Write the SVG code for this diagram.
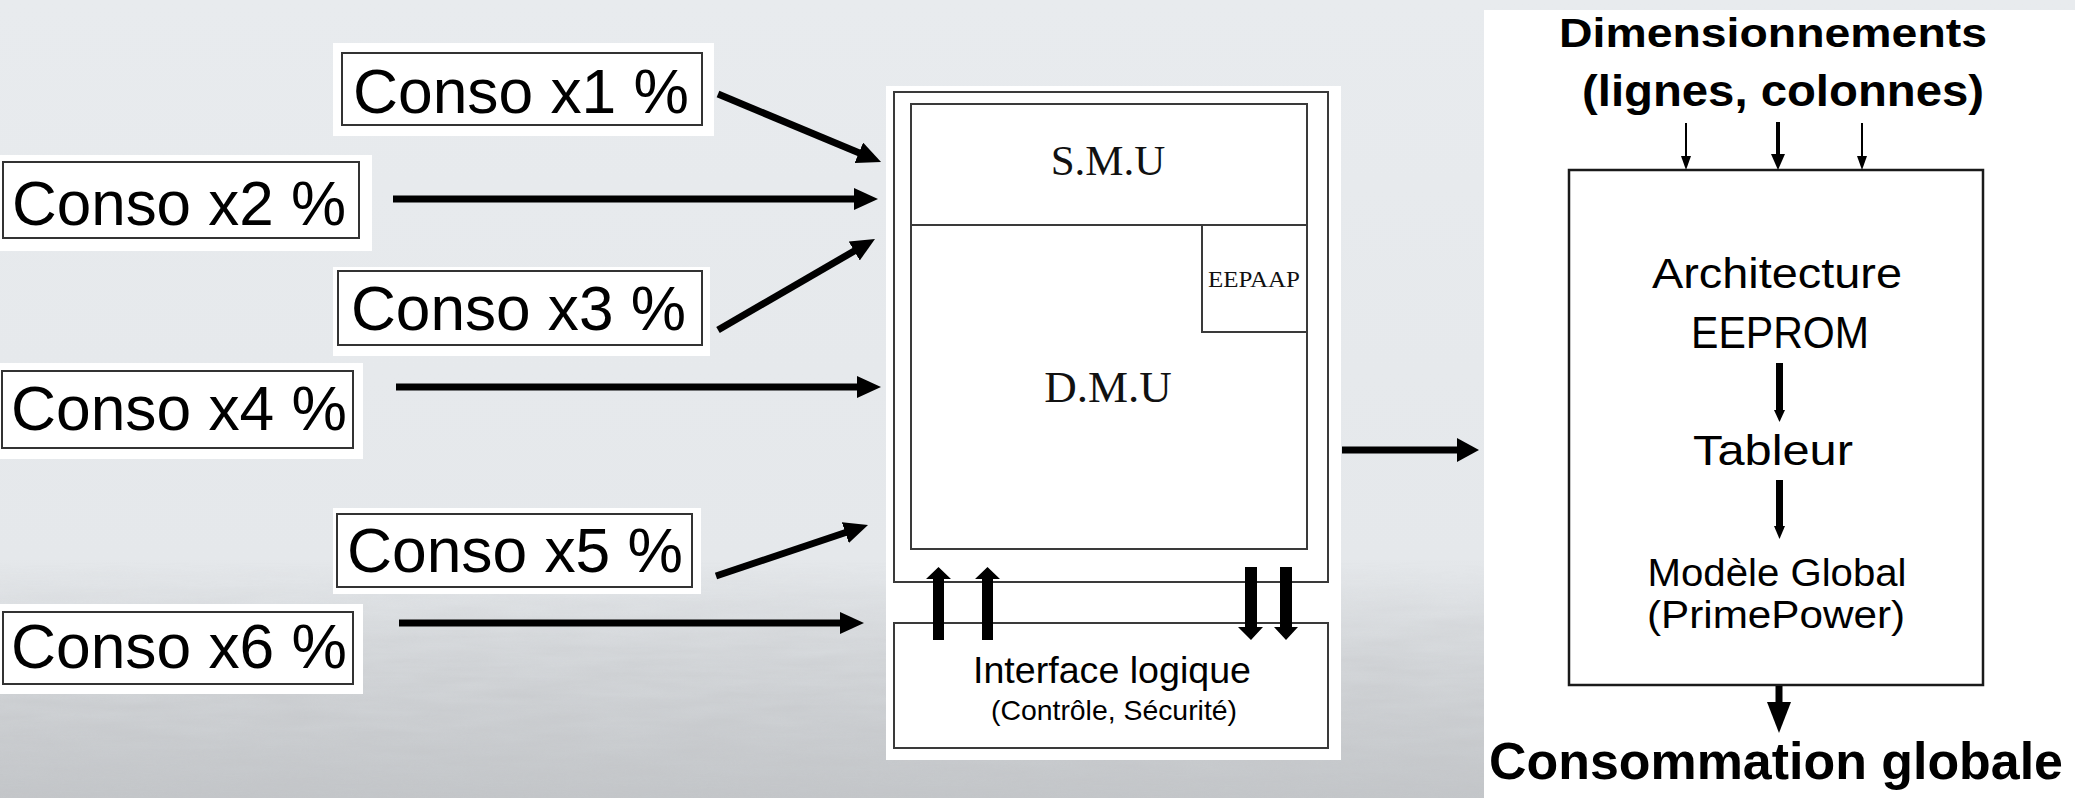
<svg xmlns="http://www.w3.org/2000/svg" width="2075" height="798" viewBox="0 0 2075 798">
<style>
.bg-w{fill:#ffffff}
.box{fill:#ffffff;stroke:#333333;stroke-width:2}
.blk{fill:none;stroke:#3a3a3a;stroke-width:2}
.conso{font-family:"Liberation Sans",Arial,sans-serif;font-size:63px;fill:#000}
.serif{font-family:"Liberation Serif","Times New Roman",serif;fill:#111}
.sans{font-family:"Liberation Sans",Arial,sans-serif;fill:#000}
.bold{font-weight:bold}
.thick{stroke:#000;stroke-width:7;fill:none}
.thin{stroke:#000;stroke-width:2;fill:none}
.med{stroke:#000;stroke-width:7;fill:none}
.head{fill:#000}
</style>
<defs>
<linearGradient id="bgGrad" x1="0" y1="0" x2="0" y2="1">
<stop offset="0" stop-color="#e8ebee"/>
<stop offset="0.7" stop-color="#e5e8eb"/>
<stop offset="0.82" stop-color="#d6d9dc"/>
<stop offset="1" stop-color="#c3c6c9"/>
</linearGradient>
<linearGradient id="fadeGrad" x1="0" y1="0" x2="0" y2="1">
<stop offset="0" stop-color="#fff" stop-opacity="0"/>
<stop offset="0.45" stop-color="#fff" stop-opacity="0.6"/>
<stop offset="1" stop-color="#fff" stop-opacity="1"/>
</linearGradient>
<mask id="texMask"><rect x="0" y="560" width="2075" height="238" fill="url(#fadeGrad)"/></mask>
<filter id="grain" x="0" y="0" width="100%" height="100%">
<feTurbulence type="fractalNoise" baseFrequency="0.012 0.09" numOctaves="3" seed="4"/>
<feColorMatrix type="matrix" values="0 0 0 0 0.55  0 0 0 0 0.56  0 0 0 0 0.58  0 0 0 -1.2 1.05"/>
</filter>
<marker id="ah" markerUnits="userSpaceOnUse" markerWidth="24" markerHeight="22" refX="9" refY="11" orient="auto">
<path d="M0,0 L24,11 L0,22 z" fill="#000"/>
</marker>
<marker id="ahBig" markerUnits="userSpaceOnUse" markerWidth="22" markerHeight="24" refX="7" refY="12" orient="auto">
<path d="M0,0 L22,12 L0,24 z" fill="#000"/>
</marker>
</defs>

<rect x="0" y="0" width="2075" height="798" fill="url(#bgGrad)"/>
<rect x="0" y="560" width="2075" height="238" filter="url(#grain)" mask="url(#texMask)" opacity="0.7"/>

<g id="conso-x1">
<rect class="bg-w" x="333" y="43" width="381" height="93"/>
<rect class="box" x="342" y="53" width="360" height="72"/>
<text class="conso" x="353" y="113" textLength="336" lengthAdjust="spacingAndGlyphs">Conso x1 %</text>
</g>
<g id="conso-x2">
<rect class="bg-w" x="0" y="155" width="372" height="96"/>
<rect class="box" x="3" y="162" width="356" height="76"/>
<text class="conso" x="12" y="225" textLength="334" lengthAdjust="spacingAndGlyphs">Conso x2 %</text>
</g>
<g id="conso-x3">
<rect class="bg-w" x="333" y="267" width="377" height="89"/>
<rect class="box" x="338" y="271" width="364" height="74"/>
<text class="conso" x="351" y="330" textLength="335" lengthAdjust="spacingAndGlyphs">Conso x3 %</text>
</g>
<g id="conso-x4">
<rect class="bg-w" x="0" y="363" width="363" height="96"/>
<rect class="box" x="2" y="371" width="351" height="77"/>
<text class="conso" x="11" y="430" textLength="336" lengthAdjust="spacingAndGlyphs">Conso x4 %</text>
</g>
<g id="conso-x5">
<rect class="bg-w" x="333" y="508" width="368" height="86"/>
<rect class="box" x="337" y="514" width="355" height="73"/>
<text class="conso" x="347" y="572" textLength="336" lengthAdjust="spacingAndGlyphs">Conso x5 %</text>
</g>
<g id="conso-x6">
<rect class="bg-w" x="0" y="604" width="363" height="90"/>
<rect class="box" x="3" y="612" width="350" height="72"/>
<text class="conso" x="11" y="668" textLength="336" lengthAdjust="spacingAndGlyphs">Conso x6 %</text>
</g>

<g id="memory-block">
<rect class="bg-w" x="886" y="86" width="455" height="674"/>
<rect class="blk" x="894" y="92" width="434" height="490"/>
<rect class="blk" x="911" y="104" width="396" height="445"/>
<line class="blk" x1="911" y1="225" x2="1307" y2="225"/>
<g id="smu">
<text class="serif" x="1108" y="175" font-size="43" text-anchor="middle">S.M.U</text>
</g>
<g id="eepaap">
<rect class="blk" x="1202" y="225" width="105" height="107"/>
<text class="serif" x="1254" y="287" font-size="23" text-anchor="middle" textLength="92" lengthAdjust="spacingAndGlyphs">EEPAAP</text>
</g>
<g id="dmu">
<text class="serif" x="1108" y="402" font-size="45" text-anchor="middle">D.M.U</text>
</g>
<g id="interface">
<rect class="blk" x="894" y="623" width="434" height="125"/>
<text class="sans" x="1112" y="683" font-size="37" text-anchor="middle" textLength="278" lengthAdjust="spacingAndGlyphs">Interface logique</text>
<text class="sans" x="1114" y="720" font-size="28" text-anchor="middle" textLength="246" lengthAdjust="spacingAndGlyphs">(Contrôle, Sécurité)</text>
</g>
</g>

<g id="model-block">
<rect class="bg-w" x="1484" y="10" width="591" height="788"/>
<text class="sans bold" x="1773" y="47" font-size="41" text-anchor="middle" textLength="428" lengthAdjust="spacingAndGlyphs">Dimensionnements</text>
<text class="sans bold" x="1783" y="106" font-size="44" text-anchor="middle" textLength="402" lengthAdjust="spacingAndGlyphs">(lignes, colonnes)</text>
<rect x="1569" y="170" width="414" height="515" fill="#fff" stroke="#1a1a1a" stroke-width="2.5"/>
<text class="sans" x="1777" y="288" font-size="43" text-anchor="middle" textLength="250" lengthAdjust="spacingAndGlyphs">Architecture</text>
<text class="sans" x="1780" y="348" font-size="44" text-anchor="middle" textLength="178" lengthAdjust="spacingAndGlyphs">EEPROM</text>
<text class="sans" x="1773" y="465" font-size="42" text-anchor="middle" textLength="160" lengthAdjust="spacingAndGlyphs">Tableur</text>
<text class="sans" x="1777" y="586" font-size="38" text-anchor="middle" textLength="259" lengthAdjust="spacingAndGlyphs">Modèle Global</text>
<text class="sans" x="1776" y="628" font-size="38" text-anchor="middle" textLength="258" lengthAdjust="spacingAndGlyphs">(PrimePower)</text>
<text class="sans bold" x="1776" y="779" font-size="52" text-anchor="middle" textLength="574" lengthAdjust="spacingAndGlyphs">Consommation globale</text>
</g>

<g id="connectors">
<line class="thick" x1="718" y1="94" x2="867.2" y2="156.2" marker-end="url(#ah)"/>
<line class="thick" x1="393" y1="199" x2="863" y2="199" marker-end="url(#ah)"/>
<line class="thick" x1="718" y1="330" x2="862" y2="246.5" marker-end="url(#ah)"/>
<line class="thick" x1="396" y1="387" x2="866" y2="387" marker-end="url(#ah)"/>
<line class="thick" x1="716" y1="576" x2="853.8" y2="529.8" marker-end="url(#ah)"/>
<line class="thick" x1="399" y1="623" x2="849" y2="623" marker-end="url(#ah)"/>
<line class="thick" x1="1342" y1="450" x2="1464" y2="450" marker-end="url(#ahBig)"/>
<!-- up arrows -->
<polygon class="head" points="933,640 944,640 944,579 951,579 938.5,567 926,579 933,579"/>
<polygon class="head" points="982,640 993,640 993,579 1000,579 987.5,567 975,579 982,579"/>
<!-- down arrows -->
<polygon class="head" points="1245,567 1257,567 1257,627 1263,627 1251,640 1238,627 1245,627"/>
<polygon class="head" points="1280,567 1292,567 1292,627 1298,627 1286,640 1274,627 1280,627"/>
<!-- dimension arrows -->
<line class="thin" x1="1686" y1="123" x2="1686" y2="158"/>
<polygon class="head" points="1681,156 1691,156 1686,170"/>
<line x1="1778" y1="122" x2="1778" y2="156" stroke="#000" stroke-width="4"/>
<polygon class="head" points="1771,154 1785,154 1778,170"/>
<line class="thin" x1="1862" y1="123" x2="1862" y2="158"/>
<polygon class="head" points="1857,156 1867,156 1862,170"/>
<!-- internal flow -->
<line class="med" x1="1779.5" y1="363" x2="1779.5" y2="412"/>
<polygon class="head" points="1774,410 1785,410 1779.5,422"/>
<line class="med" x1="1779.5" y1="480" x2="1779.5" y2="528"/>
<polygon class="head" points="1774,526 1785,526 1779.5,539"/>
<line x1="1779" y1="686" x2="1779" y2="704" stroke="#000" stroke-width="7"/>
<polygon class="head" points="1767,702 1791,702 1779,733"/>
</g>
</svg>
